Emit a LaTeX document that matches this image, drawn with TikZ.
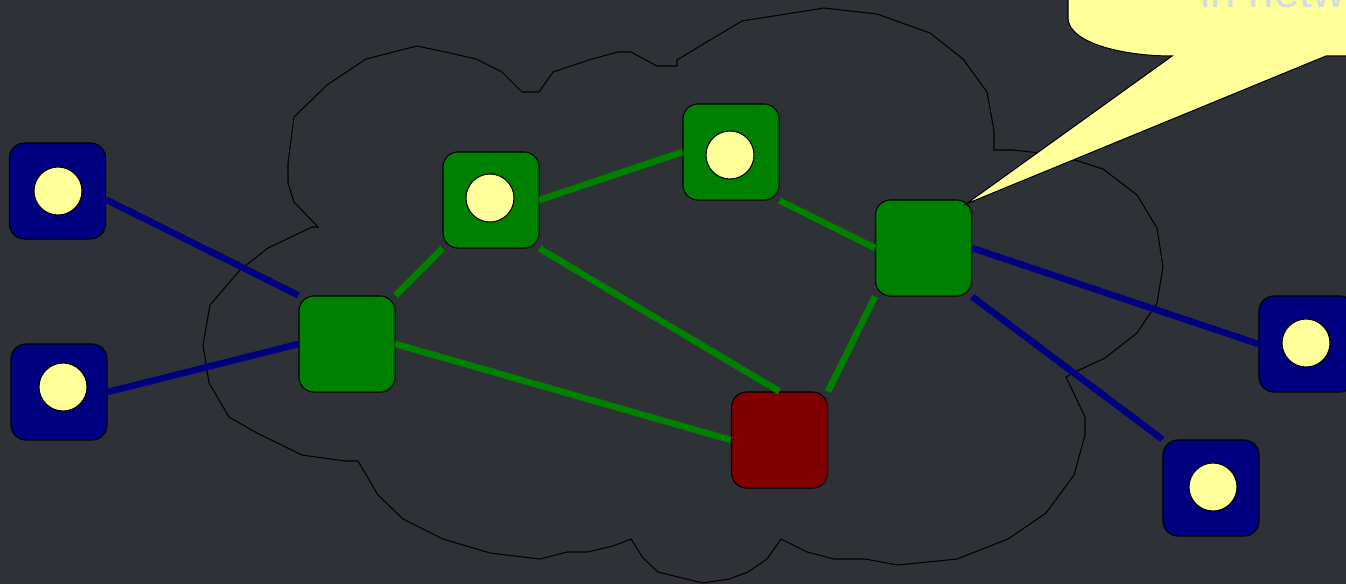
\documentclass[tikz,border=0pt]{standalone}
\usepackage{fontspec}
\setmainfont{Liberation Sans}
\definecolor{bgcol}{RGB}{46,50,54}
\definecolor{lampcol}{RGB}{255,255,153}
\definecolor{netblue}{RGB}{0,0,128}
\definecolor{netgreen}{RGB}{0,128,0}
\definecolor{netred}{RGB}{128,0,0}
\definecolor{notegray}{RGB}{214,219,224}
\tikzset{
	host/.style={draw=black, line width=0.3pt, rounded corners=0.15cm, minimum size=0.96cm, inner sep=0pt},
	lamp/.style={circle, draw=black, line width=0.3pt, fill=lampcol, minimum size=0.48cm, inner sep=0pt},
	link/.style={line width=0.065cm}
}
\begin{document}
\begin{tikzpicture}[x=0.01cm, y=-0.01cm]
		\useasboundingbox (0,0) rectangle (1346,584);
		\clip (0,0) rectangle (1346,584);
		\fill[bgcol] (0,0) rectangle (1346,584);
		
		%cloud
		\draw[line width=0.3pt] (312,227) -- (318,227) -- (294,202) -- (288,183) -- (288,163) -- (294,117) -- (327,85) -- (366,59) -- (417,46) -- (450,53) -- (476,59) -- (502,72) -- (522,92) -- (539,92) -- (553,72) -- (592,59) -- (618,52) -- (631,52) -- (657,66) -- (677,66) -- (677,60) -- (700,46) -- (742,21) -- (824,8) -- (877,14) -- (930,33) -- (963,59) -- (987,92) -- (994,131) -- (994,150) -- (1013,150) -- (1040,153) -- (1075,160) -- (1103,169) -- (1137,195) -- (1157,228) -- (1163,267) -- (1157,303) -- (1137,333) -- (1105,358) -- (1077,371) -- (1066,377) -- (1085,417) -- (1085,435) -- (1074,475) -- (1046,513) -- (1008,539) -- (957,559) -- (898,565) -- (865,559) -- (834,559) -- (807,552) -- (781,539) -- (767,559) -- (748,572) -- (729,579) -- (703,583) -- (658,572) -- (643,558) -- (631,539) -- (613,546) -- (587,552) -- (567,552) -- (540,559) -- (490,553) -- (443,539) -- (403,519) -- (378,495) -- (358,461) -- (345,461) -- (302,455) -- (257,433) -- (229,417) -- (209,383) -- (203,345) -- (210,305) -- (240,270) -- (268,248) -- cycle;
		
		%hosts
		\node (b1) at (57.5,191) [host, fill=netblue]{};
		\node (b2) at (59,392) [host, fill=netblue]{};
		\node (b3) at (1307,344) [host, fill=netblue]{};
		\node (b4) at (1211,488) [host, fill=netblue]{};
		\node (gL) at (347,344) [host, fill=netgreen]{};
		\node (gM) at (491,200) [host, fill=netgreen]{};
		\node (gT) at (731,152) [host, fill=netgreen]{};
		\node (gR) at (923.5,248) [host, fill=netgreen]{};
		\node (rd) at (779.5,440) [host, fill=netred]{};
		
		%links
		\draw[link, netblue] (b1.-10) -- (gL.north west);
		\draw[link, netblue] (b2.east) -- (gL.west);
		\draw[link, netblue] (gR.east) -- (b3.west);
		\draw[link, netblue] (gR.south east) -- (b4.north west);
		\draw[link, netgreen] (gL.north east) -- (gM.south west);
		\draw[link, netgreen] (gL.east) -- (rd.west);
		\draw[link, netgreen] (gM.east) -- (gT.west);
		\draw[link, netgreen] (gM.south east) -- (rd.north);
		\draw[link, netgreen] (gT.south east) -- (gR.west);
		\draw[link, netgreen] (gR.south west) -- (rd.north east);
		
		%lamps
		\node (l1) at (58,191) [lamp]{};
		\node (l2) at (63,387) [lamp]{};
		\node (l3) at (1306,343) [lamp]{};
		\node (l4) at (1213,487) [lamp]{};
		\node (l5) at (490,198) [lamp]{};
		\node (l6) at (730,155) [lamp]{};
		
		%callout
		\coordinate (tip) at (966,204);
		\draw[fill=lampcol, line width=0.3pt] (1068,-10) -- (1068,18) .. controls (1068,42) and (1120,56) .. (1172,56) -- (tip) -- (1326,56) -- (1360,56) -- (1360,-10) -- cycle;
		\node (note) at (1200,7) [anchor=base west, inner sep=0pt, text=notegray, font=\fontsize{13}{16}\selectfont]{in netw};
\end{tikzpicture}
\end{document}
